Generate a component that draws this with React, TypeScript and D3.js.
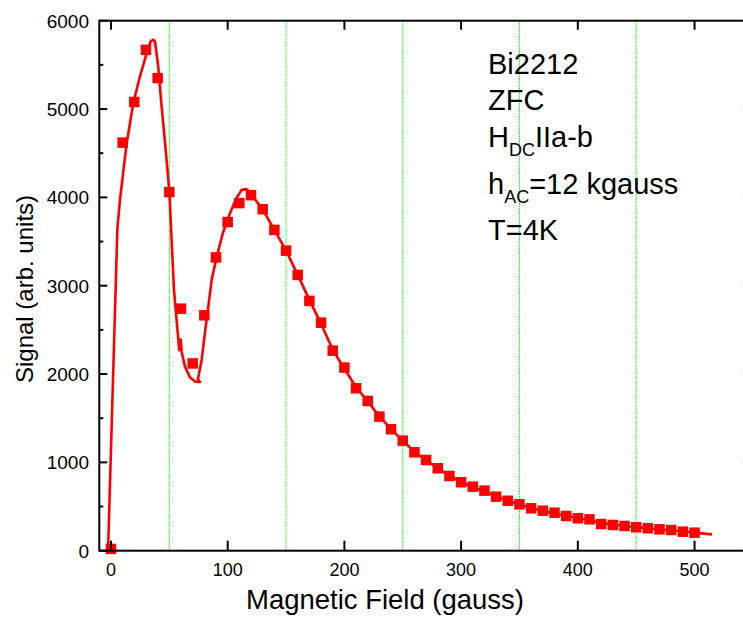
import React from "react";
import * as d3 from "d3";

// ---- data ----
const xTickValues = [0, 100, 200, 300, 400, 500];
const yTickValues = [0, 1000, 2000, 3000, 4000, 5000, 6000];
const yMinorTickValues = [500, 1500, 2500, 3500, 4500, 5500];
const gridXValues = [50, 150, 250, 350, 450, 550];

const markerX = [0, 10, 20, 30, 40, 50, 60, 70, 80, 90, 100, 110, 120, 130, 140, 150, 160, 170, 180, 190, 200, 210, 220, 230, 240, 250, 260, 270, 280, 290, 300, 310, 320, 330, 340, 350, 360, 370, 380, 390, 400, 410, 420, 430, 440, 450, 460, 470, 480, 490, 500];
const markerY = [20, 4620, 5080, 5670, 5350, 4060, 2740, 2120, 2665, 3320, 3720, 3935, 4025, 3865, 3632, 3397, 3122, 2828, 2582, 2265, 2073, 1839, 1695, 1518, 1375, 1246, 1114, 1027, 933, 846, 775, 725, 680, 612, 565, 525, 480, 453, 430, 393, 367, 355, 302, 291, 280, 265, 254, 242, 234, 215, 204];

const fitX = [-2.5, 5.5, 7.7, 11.1, 13.5, 16.3, 19.1, 24.8, 30.6, 34, 36.2, 37.7, 40.5, 43.4, 46.9, 50, 54, 57.7, 58.5, 59.8, 60.6, 63.4, 67.7, 72, 76.3, 74.5, 77.7, 80.5, 83.4, 86.3, 90.6, 96, 102, 107, 112, 116.3, 120, 125, 130, 140, 150, 160, 170, 180, 190, 200, 210, 220, 230, 240, 250, 260, 270, 280, 290, 300, 310, 320, 330, 340, 350, 360, 370, 380, 390, 400, 410, 420, 430, 440, 450, 460, 470, 480, 490, 500, 515];
const fitY = [0, 3650, 3970, 4350, 4614, 4840, 5067, 5368, 5633, 5765, 5784, 5765, 5481, 5028, 4538, 4066, 2950, 2390, 2270, 2390, 2250, 2084, 1964, 1914, 1910, 1940, 2160, 2465, 2763, 3066, 3330, 3600, 3821, 3980, 4085, 4093, 4040, 3950, 3865, 3632, 3397, 3122, 2840, 2570, 2275, 2060, 1850, 1690, 1520, 1375, 1246, 1120, 1025, 933, 850, 778, 722, 670, 615, 565, 522, 482, 450, 424, 395, 370, 345, 315, 295, 280, 266, 254, 242, 232, 218, 205, 185];

const annotationLines = ["Bi2212", "ZFC"];

export default function App() {
  const W = 743;
  const H = 619;
  const x = d3.scaleLinear().domain([-10, 550]).range([99.3, 752.9]);
  const y = d3.scaleLinear().domain([0, 6000]).range([550.7, 20.7]);

  const line = d3
    .line<number>()
    .x((_, i) => x(fitX[i]))
    .y((_, i) => y(fitY[i]))
    .curve(d3.curveLinear);

  const fitPath = line(fitX) || "";
  const font = "'Liberation Sans', Arial, sans-serif";
  const left = x.range()[0];
  const right = x.range()[1];
  const top = y.range()[1];
  const bottom = y.range()[0];
  const ms = 10.5;

  return (
    <svg
      width={W}
      height={H}
      style={{ position: "absolute", left: 0, top: 0, background: "#fff" }}
    >
      <rect x={0} y={0} width={W} height={H} fill="#fff" />

      {/* grid lines */}
      {gridXValues.map((g) => (
        <line
          key={"g" + g}
          x1={x(g)}
          x2={x(g)}
          y1={top}
          y2={bottom}
          stroke="#00ee00"
          strokeWidth={1}
          strokeDasharray="1.5,1"
        />
      ))}

      {/* fit line */}
      <path d={fitPath} fill="none" stroke="#ff0000" strokeWidth={2.6} strokeLinejoin="round" />

      {/* markers */}
      {markerX.map((mx, i) => (
        <rect
          key={"m" + i}
          x={x(mx) - ms / 2}
          y={y(markerY[i]) - ms / 2}
          width={ms}
          height={ms}
          fill="#ff0000"
        />
      ))}

      {/* frame */}
      <rect x={left} y={top} width={right - left} height={bottom - top} fill="none" stroke="#000" strokeWidth={2} />

      {/* x ticks bottom & top */}
      {xTickValues.map((t) => (
        <g key={"xt" + t}>
          <line x1={x(t)} x2={x(t)} y1={bottom} y2={bottom - 10} stroke="#000" strokeWidth={2} />
          <line x1={x(t)} x2={x(t)} y1={top} y2={top + 9} stroke="#000" strokeWidth={2} />
          <text x={x(t)} y={576} textAnchor="middle" fontFamily={font} fontSize={18} fill="#000">
            {t}
          </text>
        </g>
      ))}

      {/* y ticks left & right */}
      {yTickValues.map((t) => (
        <g key={"yt" + t}>
          <line x1={left} x2={left + 8} y1={y(t)} y2={y(t)} stroke="#000" strokeWidth={2} />
          <line x1={right} x2={right - 10} y1={y(t)} y2={y(t)} stroke="#000" strokeWidth={2} />
          <text x={89} y={y(t) + 7} textAnchor="end" fontFamily={font} fontSize={19} fill="#000">
            {t}
          </text>
        </g>
      ))}
      {yMinorTickValues.map((t) => (
        <line key={"ym" + t} x1={left} x2={left + 4} y1={y(t)} y2={y(t)} stroke="#000" strokeWidth={2} />
      ))}

      {/* axis titles */}
      <text
        x={385}
        y={609}
        textAnchor="middle"
        fontFamily={font}
        fontSize={28}
        fill="#000"
        textLength={278}
        lengthAdjust="spacingAndGlyphs"
      >
        Magnetic Field (gauss)
      </text>
      <text
        transform="translate(33,289) rotate(-90)"
        textAnchor="middle"
        fontFamily={font}
        fontSize={24}
        fill="#000"
      >
        Signal (arb. units)
      </text>

      {/* annotation */}
      <g fontFamily={font} fontSize={29} fill="#000">
        <text x={488} y={74}>{annotationLines[0]}</text>
        <text x={488} y={110}>{annotationLines[1]}</text>
        <text x={488} y={147}>
          H<tspan fontSize={18} dy={9}>DC</tspan>
          <tspan dy={-9}>IIa-b</tspan>
        </text>
        <text x={488} y={194}>
          h<tspan fontSize={18} dy={9}>AC</tspan>
          <tspan dy={-9}>=12 kgauss</tspan>
        </text>
        <text x={488} y={240}>T=4K</text>
      </g>
    </svg>
  );
}
